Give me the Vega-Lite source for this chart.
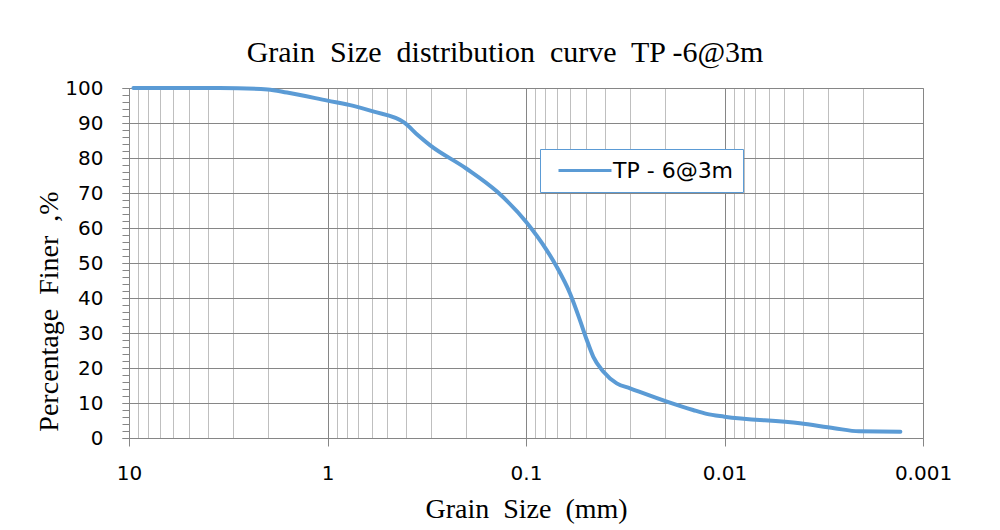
{
  "$schema": "https://vega.github.io/schema/vega-lite/v6.json",
  "width": 794,
  "height": 350,
  "autosize": {"type": "none"},
  "padding": {"left": 129, "top": 88, "right": 77, "bottom": 92},
  "background": "white",
  "title": {
    "text": "Grain\u00a0 Size\u00a0 distribution\u00a0 curve\u00a0 TP -6@3m",
    "font": "Liberation Serif",
    "fontSize": 30,
    "fontWeight": "normal",
    "color": "black",
    "anchor": "middle",
    "frame": "group",
    "baseline": "alphabetic",
    "dx": -21,
    "dy": 40,
    "offset": 26
  },
  "config": {
    "view": {"stroke": "#b3b3b3", "strokeWidth": 1},
    "axis": {
      "labelFont": "DejaVu Sans",
      "labelFontSize": 20,
      "labelColor": "black",
      "labelFlush": false,
      "labelOverlap": false,
      "titleFont": "Liberation Serif",
      "titleFontSize": 28,
      "titleFontWeight": "normal",
      "titleColor": "black",
      "tickColor": "#868686",
      "domainColor": "#868686",
      "gridOpacity": 1,
      "tickWidth": 1,
      "domainWidth": 1
    }
  },
  "data": {
    "values": [
      {"size": 9.5, "finer": 100},
      {"size": 6, "finer": 100},
      {"size": 3.5, "finer": 100},
      {"size": 2.0, "finer": 99.6},
      {"size": 1.6, "finer": 98.7},
      {"size": 1.0, "finer": 96.4},
      {"size": 0.74, "finer": 94.9},
      {"size": 0.59, "finer": 93.3},
      {"size": 0.41, "finer": 90.1},
      {"size": 0.35, "finer": 86.5},
      {"size": 0.305, "finer": 83.7},
      {"size": 0.2, "finer": 77},
      {"size": 0.14, "finer": 70.4},
      {"size": 0.1, "finer": 61.8},
      {"size": 0.0787, "finer": 53.7},
      {"size": 0.07, "finer": 48.9},
      {"size": 0.06, "finer": 41.3},
      {"size": 0.0535, "finer": 33.7},
      {"size": 0.0494, "finer": 28},
      {"size": 0.0458, "finer": 23.2},
      {"size": 0.0408, "finer": 19},
      {"size": 0.0349, "finer": 15.6},
      {"size": 0.0299, "finer": 14.2},
      {"size": 0.0195, "finer": 10.4},
      {"size": 0.0144, "finer": 8},
      {"size": 0.0123, "finer": 6.9},
      {"size": 0.01, "finer": 6.1},
      {"size": 0.00417, "finer": 4.2},
      {"size": 0.0028, "finer": 2.8},
      {"size": 0.0021, "finer": 1.9},
      {"size": 0.0013, "finer": 1.8}
    ]
  },
  "layer": [
    {
      "mark": {"type": "line", "strokeOpacity": 0},
      "encoding": {
        "x": {
          "field": "size",
          "type": "quantitative",
          "scale": {"type": "log", "domain": [0.001, 10], "reverse": true, "nice": false},
          "axis": {
            "orient": "bottom",
            "values": [0.002, 0.003, 0.004, 0.005, 0.006, 0.007, 0.008, 0.009, 0.02, 0.03, 0.04, 0.05, 0.06, 0.07, 0.08, 0.09, 0.2, 0.3, 0.4, 0.5, 0.6, 0.7, 0.8, 0.9, 2, 3, 4, 5, 6, 7, 8, 9],
            "grid": true,
            "gridColor": "#bfbfbf",
            "ticks": false,
            "labels": false,
            "domain": false,
            "title": null
          }
        },
        "y": {
          "field": "finer",
          "type": "quantitative",
          "scale": {"domain": [0, 100], "nice": false},
          "axis": {
            "orient": "left",
            "values": [0, 2, 4, 6, 8, 10, 12, 14, 16, 18, 20, 22, 24, 26, 28, 30, 32, 34, 36, 38, 40, 42, 44, 46, 48, 50, 52, 54, 56, 58, 60, 62, 64, 66, 68, 70, 72, 74, 76, 78, 80, 82, 84, 86, 88, 90, 92, 94, 96, 98, 100],
            "grid": false,
            "labels": false,
            "ticks": true,
            "tickSize": 7,
            "domain": false,
            "title": null
          }
        }
      }
    },
    {
      "mark": {"type": "line", "interpolate": "monotone", "strokeWidth": 4, "strokeCap": "round"},
      "encoding": {
        "x": {
          "field": "size",
          "type": "quantitative",
          "scale": {"type": "log", "domain": [0.001, 10], "reverse": true, "nice": false},
          "axis": {
            "orient": "bottom",
            "values": [10, 1, 0.1, 0.01, 0.001],
            "format": ".3~f",
            "grid": true,
            "gridColor": "#868686",
            "tickSize": 8,
            "labelPadding": 33,
            "labelBaseline": "alphabetic",
            "domain": true,
            "title": "Grain\u00a0 Size\u00a0 (mm)",
            "titleBaseline": "alphabetic",
            "titleY": 79
          }
        },
        "y": {
          "field": "finer",
          "type": "quantitative",
          "scale": {"domain": [0, 100], "nice": false},
          "axis": {
            "orient": "left",
            "values": [0, 10, 20, 30, 40, 50, 60, 70, 80, 90, 100],
            "grid": true,
            "gridColor": "#868686",
            "tickSize": 7,
            "labelPadding": 19,
            "domain": true,
            "title": "Percentage\u00a0 Finer\u00a0 ,%",
            "titleAngle": -90,
            "titleBaseline": "alphabetic",
            "titleAlign": "center",
            "titleX": -72,
            "titleY": 223
          }
        },
        "color": {
          "datum": "TP - 6@3m",
          "type": "nominal",
          "scale": {"range": ["#5b9bd5"]},
          "legend": {
            "title": null,
            "orient": "none",
            "legendX": 411,
            "legendY": 61,
            "symbolType": "stroke",
            "symbolSize": 2809,
            "symbolStrokeWidth": 3,
            "symbolOffset": 8,
            "clipHeight": 25,
            "labelFont": "DejaVu Sans",
            "labelFontSize": 22,
            "labelColor": "black",
            "labelOffset": 0,
            "strokeColor": "#5b9bd5",
            "fillColor": "white",
            "padding": 9
          }
        }
      }
    }
  ],
  "resolve": {"axis": {"x": "independent", "y": "independent"}}
}
